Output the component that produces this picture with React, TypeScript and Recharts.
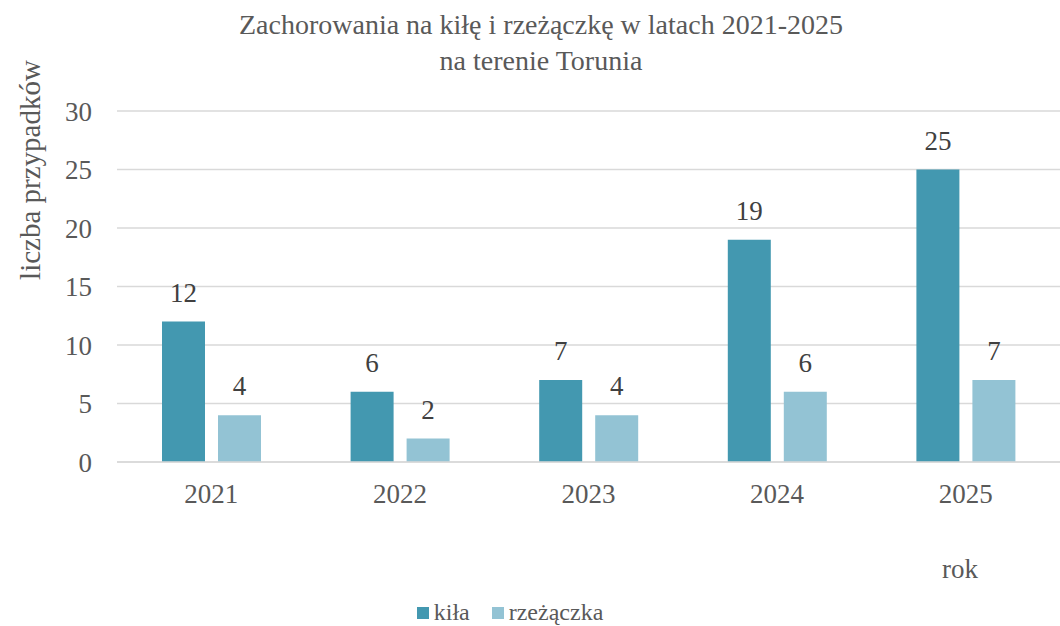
import { BarChart, Bar, XAxis, YAxis, CartesianGrid, Legend, LabelList, Label } from "recharts";

const YEARS = ["2021", "2022", "2023", "2024", "2025"];
const KILA = [12, 6, 7, 19, 25];
const RZEZACZKA = [4, 2, 4, 6, 7];
const Y_TICKS = [0, 5, 10, 15, 20, 25, 30];

const DARK = "#4398b0";
const LIGHT = "#93c3d4";
const TEXT = "#595959";
const FONT = "Liberation Serif, Tinos, DejaVu Serif, serif";

const data = YEARS.map((year, i) => ({ year, kila: KILA[i], rzezaczka: RZEZACZKA[i] }));

const legendContent = () => (
  <div style={{ display: "flex", justifyContent: "center", fontFamily: FONT, fontSize: 24, color: TEXT, paddingRight: 40, height: 27 }}>
    <span style={{ display: "flex", alignItems: "center", marginRight: 22 }}>
      <span style={{ width: 12, height: 12, background: DARK, marginRight: 5, display: "inline-block" }} />
      kiła
    </span>
    <span style={{ display: "flex", alignItems: "center" }}>
      <span style={{ width: 12, height: 12, background: LIGHT, marginRight: 5, display: "inline-block" }} />
      rzeżączka
    </span>
  </div>
);

export default function App() {
  return (
    <div style={{ position: "absolute", left: 0, top: 0, width: 1060, height: 626, background: "#fff", fontFamily: FONT }}>
      <div style={{ position: "absolute", top: 7, left: 0, width: 1082, textAlign: "center", fontSize: 28, color: TEXT, lineHeight: "36px" }}>
        Zachorowania na kiłę i rzeżączkę w latach 2021-2025
        <br />
        na terenie Torunia
      </div>
      <BarChart
        width={1060}
        height={626}
        data={data}
        margin={{ top: 111, right: 0, bottom: 0, left: 0 }}
        barCategoryGap={45}
        barGap={13}
      >
        <CartesianGrid vertical={false} stroke="#d9d9d9" strokeWidth={1.5} />
        <XAxis
          dataKey="year"
          height={137}
          axisLine={{ stroke: "#d9d9d9", strokeWidth: 1.5 }}
          tickLine={false}
          tickMargin={16}
          tick={{ fontSize: 27, fill: TEXT, fontFamily: FONT }}
        >
          <Label
            content={() => (
              <text x={960} y={578} textAnchor="middle" fontSize={27} fill={TEXT} fontFamily={FONT}>
                rok
              </text>
            )}
          />
        </XAxis>
        <YAxis
          width={117}
          domain={[0, 30]}
          ticks={Y_TICKS}
          axisLine={false}
          tickLine={false}
          tickSize={0}
          tickMargin={25}
          tick={{ fontSize: 27, fill: TEXT, fontFamily: FONT }}
        >
          <Label
            content={() => (
              <text
                x={30}
                y={170}
                transform="rotate(-90, 30, 170)"
                textAnchor="middle"
                dominantBaseline="central"
                fontSize={29}
                fill={TEXT}
                fontFamily={FONT}
              >
                liczba przypadków
              </text>
            )}
          />
        </YAxis>
        <Legend verticalAlign="bottom" wrapperStyle={{ bottom: 0 }} content={legendContent} />
        <Bar dataKey="kila" name="kiła" fill={DARK} barSize={43} isAnimationActive={false}>
          <LabelList dataKey="kila" position="top" offset={20} fill="#404040" fontSize={27} fontFamily={FONT} />
        </Bar>
        <Bar dataKey="rzezaczka" name="rzeżączka" fill={LIGHT} barSize={43} isAnimationActive={false}>
          <LabelList dataKey="rzezaczka" position="top" offset={20} fill="#404040" fontSize={27} fontFamily={FONT} />
        </Bar>
      </BarChart>
    </div>
  );
}
